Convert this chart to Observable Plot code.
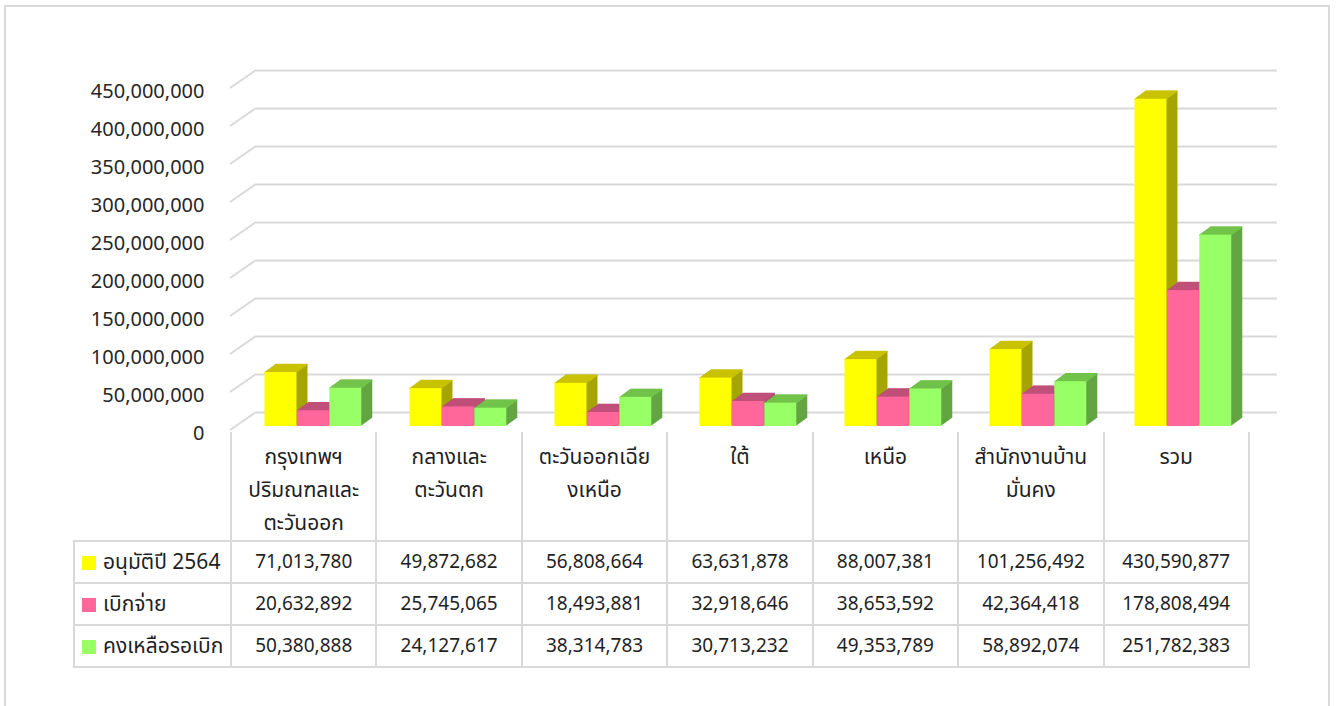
<!DOCTYPE html>
<html>
<head>
<meta charset="utf-8">
<script src="https://cdn.jsdelivr.net/npm/d3@7"></script>
<script src="https://cdn.jsdelivr.net/npm/@observablehq/plot@0.6"></script>
<style>
  body { margin: 0; background: #fff; }
  #wrap { position: relative; width: 1337px; height: 706px; overflow: hidden; background: #fff;
          font-family: Tahoma, "Noto Sans Thai", "DejaVu Sans", "Noto Sans", sans-serif; color: #1f1f1f; }
  #frame { position: absolute; left: 4px; top: 5px; width: 1326px; height: 760px;
           border: 2px solid #d9d9d9; box-sizing: border-box; }
  #chart { position: absolute; left: 0; top: 0; }
  #tbl { position: absolute; left: 73px; top: 432px; border-collapse: collapse; table-layout: fixed;
         font-size: 19px; }
  #tbl td { border: 2px solid #d9d9d9; padding: 0; text-align: center; vertical-align: middle; }
  #tbl tr.head td { vertical-align: top; border-top: none; line-height: 33px; padding-top: 9px;
                    white-space: pre-line; font-size: 21px; }
  #tbl tr.head td.corner { border-left: none; }
  #tbl td.rowhead { text-align: left; padding-left: 7px; white-space: nowrap; font-size: 21px; }
  .sw { display: inline-block; width: 14px; height: 14px; margin-right: 7px; vertical-align: -1px; }
</style>
</head>
<body>
<div id="wrap">
  <div id="frame"></div>
  <div id="chart"></div>
</div>
<script>
// ---------------- data ----------------
const categories = [
  "กรุงเทพฯ\nปริมณฑลและ\nตะวันออก",
  "กลางและ\nตะวันตก",
  "ตะวันออกเฉีย\nงเหนือ",
  "ใต้",
  "เหนือ",
  "สำนักงานบ้าน\nมั่นคง",
  "รวม"
];
const seriesNames = ["อนุมัติปี 2564", "เบิกจ่าย", "คงเหลือรอเบิก"];
const approved  = [71013780, 49872682, 56808664, 63631878, 88007381, 101256492, 430590877];
const disbursed = [20632892, 25745065, 18493881, 32918646, 38653592, 42364418, 178808494];
const remaining = [50380888, 24127617, 38314783, 30713232, 49353789, 58892074, 251782383];
const yTicks = [0, 50000000, 100000000, 150000000, 200000000, 250000000, 300000000, 350000000, 400000000, 450000000];

const frontColors = ["#ffff00", "#ff6699", "#99ff66"];
const topColors   = ["#c8c200", "#c0507a", "#72c34a"];
const sideColors  = ["#a6a400", "#b0486e", "#62a542"];

// ---------------- layout ----------------
const W = 1337, H = 440, mL = 230, mR = 89, mT = 84, mB = 14;
const bw = (W - mL - mR) / categories.length;
const barW = 32.4, firstOff = 32.5;
const DX = 11, DY = 8;            // bar depth
const GX = 26, GY = 18;           // wall depth
const fmt = d3.format(",");

const seriesValues = [approved, disbursed, remaining];
const seriesData = seriesValues.map((vals, i) =>
  categories.map((c, j) => ({cat: c, series: seriesNames[i], value: vals[j]})));

const marks = [];
// back-wall gridlines
marks.push(Plot.ruleY(yTicks, {y: d => d, dx: GX, dy: -(GY - 4), stroke: "#d9d9d9", strokeWidth: 2, insetRight: -3}));
// side-wall diagonals (drawn through the y scale)
marks.push((index, scales, values, dims) => {
  const y = scales.y || (scales.scales && scales.scales.y && scales.scales.y.apply);
  const g = d3.create("svg:g").attr("stroke", "#d9d9d9").attr("stroke-width", 2);
  for (const v of yTicks) {
    g.append("line")
      .attr("x1", dims.marginLeft).attr("y1", y(v) + 4)
      .attr("x2", dims.marginLeft + GX).attr("y2", y(v) + 4 - GY);
  }
  return g.node();
});
// y tick labels
marks.push(Plot.text(yTicks, {y: d => d, text: d => fmt(d), frameAnchor: "left", textAnchor: "end",
  dx: -26, dy: 7, fontSize: 20, fill: "#262626"}));

const insets = seriesNames.map((s, i) => {
  const il = firstOff + i * barW;
  return {il, ir: bw - il - barW};
});
// extrusions (side colour sweep)
seriesData.forEach((data, i) => {
  for (let k = 1; k <= DX; k++) {
    marks.push(Plot.barY(data, {x: "cat", y: "value", insetLeft: insets[i].il, insetRight: insets[i].ir,
      dx: k, dy: -k * DY / DX, fill: sideColors[i]}));
  }
});
// top faces
seriesData.forEach((data, i) => {
  for (let t = 0; t <= DY; t++) {
    marks.push(Plot.tickY(data, {x: "cat", y: "value", insetLeft: insets[i].il, insetRight: insets[i].ir,
      dx: t * DX / DY, dy: -t, stroke: topColors[i], strokeWidth: 1.5}));
  }
});
// front faces
seriesData.forEach((data, i) => {
  marks.push(Plot.barY(data, {x: "cat", y: "value", insetLeft: insets[i].il, insetRight: insets[i].ir,
    fill: frontColors[i]}));
});

const chart = Plot.plot({
  width: W, height: H,
  marginLeft: mL, marginRight: mR, marginTop: mT, marginBottom: mB,
  x: {type: "band", domain: categories, padding: 0, axis: null},
  y: {domain: [0, 450000000], axis: null},
  style: {fontFamily: "Tahoma, 'Noto Sans Thai', 'DejaVu Sans', sans-serif", fontSize: "17px", background: "transparent", overflow: "visible"},
  marks
});
document.getElementById("chart").appendChild(chart);

// ---------------- data table ----------------
const tbl = d3.select("#wrap").append("table").attr("id", "tbl");
const cg = tbl.append("colgroup");
cg.append("col").style("width", (mL - 73) + "px");
categories.forEach(() => cg.append("col").style("width", bw + "px"));
tbl.style("width", (mL - 73 + bw * categories.length) + "px");
const head = tbl.append("tr").attr("class", "head").style("height", "109px");
head.append("td").attr("class", "corner");
categories.forEach(c => head.append("td").text(c));
seriesNames.forEach((s, i) => {
  const tr = tbl.append("tr").style("height", "42px");
  const th = tr.append("td").attr("class", "rowhead");
  th.append("span").attr("class", "sw").style("background", frontColors[i]);
  th.append("span").text(s);
  seriesValues[i].forEach(v => tr.append("td").text(fmt(v)));
});
</script>
</body>
</html>
